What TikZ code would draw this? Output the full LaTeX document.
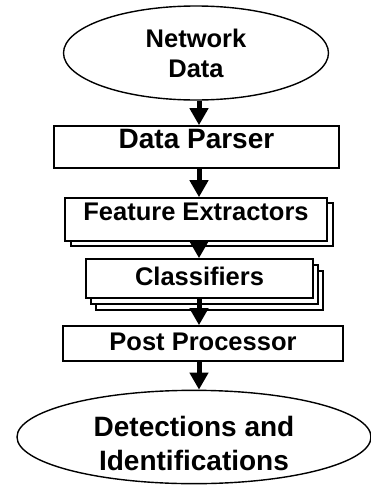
\documentclass[tikz,border=0pt]{standalone}
\usepackage{fontspec}
\setmainfont{Liberation Sans}
\usetikzlibrary{shapes.geometric,shadows,arrows.meta}
\tikzset{
  every node/.style={font=\fontsize{25.5}{30}\bfseries\selectfont, align=center, inner sep=0pt},
  bigtext/.style={font=\fontsize{28}{34}\bfseries\selectfont},
  endpoint/.style={draw, line width=1.4pt, ellipse},
  stage/.style={draw, line width=1.6pt, fill=white, rectangle, text height=18pt, text depth=#1},
  stage/.default=16pt,
  flow/.style={line width=5pt, -{Triangle[width=18pt,length=17pt]}},
}

\begin{document}
\begin{tikzpicture}[x=1pt,y=-1pt]
	\useasboundingbox (0,0) rectangle (370,485);
	\coordinate (col) at (199,0);

	\node[endpoint, minimum width=265pt, minimum height=94pt] (net) at (196,53) {Network\\Data};
	\node[stage, bigtext, minimum width=285pt, minimum height=42pt] (parser) at (196.5,147) {Data Parser};
	\node[stage=17pt, minimum width=262pt, minimum height=43pt,
		copy shadow={shadow xshift=6pt, shadow yshift=-5pt, line width=1.6pt}] (extract) at (196,219.5) {Feature Extractors};
	\node[stage=5pt, minimum width=227pt, minimum height=39pt,
		double copy shadow={shadow xshift=5pt, shadow yshift=-6pt, line width=1.6pt}] (classify) at (199.5,278.5) {Classifiers};
	\node[stage=5pt, minimum width=280pt, minimum height=35pt] (post) at (203,343.5) {Post Processor};
	\node[endpoint, bigtext, minimum width=354pt, minimum height=91pt,
		text height=66pt, text depth=-12pt] (detect) at (194,437) {Detections and\\Identifications};

	\draw[flow] (net.south -| col) -- (parser.north -| col);
	\draw[flow] (parser.south -| col) -- (extract.north -| col);
	\draw[flow] (extract.south -| col) -- (classify.north -| col);
	\draw[flow] (classify.south -| col) -- (post.north -| col);
	\draw[flow] (post.south -| col) -- (detect.north -| col);

\end{tikzpicture}
\end{document}
